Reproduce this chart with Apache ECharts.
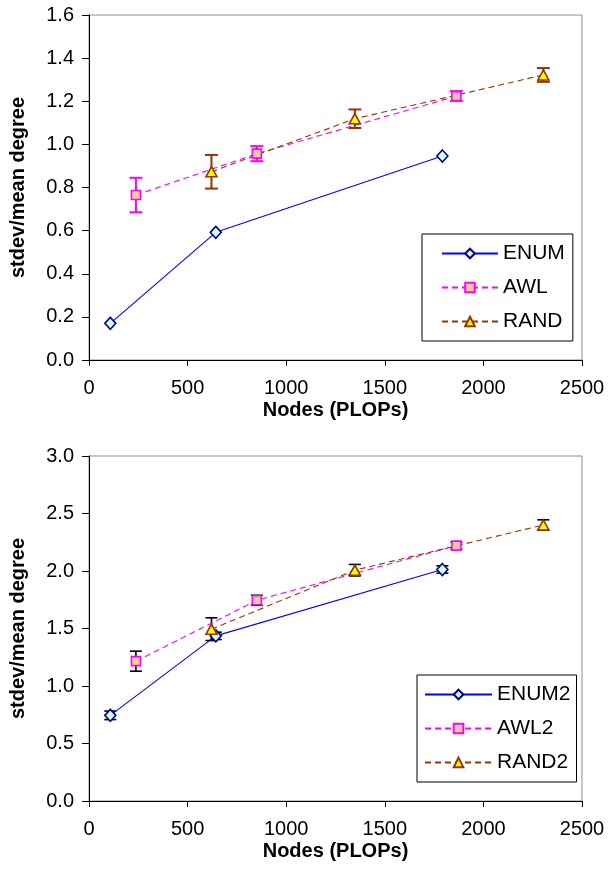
<!DOCTYPE html>
<html>
<head>
<meta charset="utf-8">
<script src="https://cdn.jsdelivr.net/npm/echarts@6/dist/echarts.min.js"></script>
<style>
  html, body { margin: 0; padding: 0; background: #fff; }
  #chart { width: 614px; height: 886px; }
</style>
</head>
<body>
<div id="chart"></div>
<script>
// Node counts (PLOPs) for each method
const nodesEnum = [108, 643, 1792];
const nodesAwl  = [238, 851, 1863];
const nodesRand = [621, 1348, 2304];

// Upper panel: stdev/mean degree
const enumVals = [0.170, 0.592, 0.946];
const awlVals  = [0.765, 0.957, 1.224];
const awlErr   = [0.080, 0.035, 0.023];
const randVals = [0.873, 1.119, 1.322];
const randErr  = [0.078, 0.043, 0.032];

// Lower panel: stdev/mean degree (second metric set)
const enum2Vals = [0.745, 1.436, 2.013];
const enum2Err  = [0.037, 0.032, 0.032];
const awl2Vals  = [1.216, 1.746, 2.221];
const awl2Err   = [0.087, 0.043, 0.030];
const rand2Vals = [1.494, 2.007, 2.400];
const rand2Err  = [0.099, 0.050, 0.045];

// Axis ticks
const xTicks = [0, 500, 1000, 1500, 2000, 2500];
const yTicksTop = [0, 0.2, 0.4, 0.6, 0.8, 1.0, 1.2, 1.4, 1.6];
const yTicksBottom = [0, 0.5, 1.0, 1.5, 2.0, 2.5, 3.0];

const FONT = '"Liberation Sans", Arial, sans-serif';

const pairs = (xs, ys) => xs.map((x, i) => [x, ys[i]]);
const errRows = (xs, ys, es) => xs.map((x, i) => [x, ys[i] - es[i], ys[i] + es[i]]);

function errorSeries(name, gridIdx, rows, color, width, cap) {
  return {
    type: 'custom',
    name: name,
    xAxisIndex: gridIdx,
    yAxisIndex: gridIdx,
    z: 1,
    silent: true,
    encode: { x: 0, y: [1, 2] },
    data: rows,
    renderItem: function (params, api) {
      const x = api.value(0);
      const lo = api.coord([x, api.value(1)]);
      const hi = api.coord([x, api.value(2)]);
      const h = cap / 2;
      const st = { stroke: color, lineWidth: width };
      return {
        type: 'group',
        children: [
          { type: 'line', shape: { x1: lo[0], y1: lo[1], x2: hi[0], y2: hi[1] }, style: st },
          { type: 'line', shape: { x1: hi[0] - h, y1: hi[1], x2: hi[0] + h, y2: hi[1] }, style: st },
          { type: 'line', shape: { x1: lo[0] - h, y1: lo[1], x2: lo[0] + h, y2: lo[1] }, style: st }
        ]
      };
    }
  };
}

const styleEnum = {
  symbol: 'diamond', symbolSize: [11, 12],
  itemStyle: { color: '#CCFFFF', borderColor: '#000080', borderWidth: 1.6 },
  lineStyle: { color: '#0000FF', width: 1.1, type: 'solid' }
};
const styleAwl = {
  symbol: 'rect', symbolSize: 9,
  itemStyle: { color: '#FFCC99', borderColor: '#FF00FF', borderWidth: 1.6 },
  lineStyle: { color: '#FF00FF', width: 1.1, type: [6, 4] }
};
const styleRand = {
  symbol: 'triangle', symbolSize: [11, 10],
  itemStyle: { color: '#FFFF00', borderColor: '#993300', borderWidth: 1.6 },
  lineStyle: { color: '#993300', width: 1.1, type: [6, 4] }
};

function lineSeries(name, gridIdx, data, style) {
  return Object.assign({
    type: 'line', name: name, xAxisIndex: gridIdx, yAxisIndex: gridIdx,
    data: data, z: 3, showAllSymbol: true, animation: false
  }, style);
}

function xAxis(gridIdx) {
  return {
    type: 'value', gridIndex: gridIdx, min: xTicks[0], max: xTicks[xTicks.length - 1], interval: 500,
    name: 'Nodes (PLOPs)', nameLocation: 'middle', nameGap: 40,
    nameTextStyle: { fontFamily: FONT, fontSize: 20, fontWeight: 'bold', color: '#000' },
    axisLine: { show: true, onZero: false, lineStyle: { color: '#000', width: 1 } },
    axisTick: { show: true, inside: false, length: 6, lineStyle: { color: '#000' } },
    axisLabel: { fontFamily: FONT, fontSize: 20, color: '#000', margin: 18,
      formatter: v => String(v) },
    splitLine: { show: false }
  };
}

function yAxis(gridIdx, ticks, step) {
  return {
    type: 'value', gridIndex: gridIdx, min: 0, max: ticks[ticks.length - 1], interval: step,
    name: 'stdev/mean degree', nameLocation: 'middle', nameGap: 61,
    nameTextStyle: { fontFamily: FONT, fontSize: 20, fontWeight: 'bold', color: '#000' },
    axisLine: { show: true, onZero: false, lineStyle: { color: '#000', width: 1 } },
    axisTick: { show: true, inside: false, length: 7, lineStyle: { color: '#000' } },
    axisLabel: { fontFamily: FONT, fontSize: 20, color: '#000', margin: 15,
      formatter: v => v.toFixed(1) },
    splitLine: { show: false }
  };
}

function legend(names, left, top, padding, iconW) {
  return {
    data: names,
    orient: 'vertical',
    left: left, top: top,
    padding: padding,
    itemGap: 13,
    itemWidth: iconW, itemHeight: 12,
    backgroundColor: '#fff',
    borderColor: '#000', borderWidth: 1,
    selectedMode: false,
    textStyle: { fontFamily: FONT, fontSize: 21, color: '#000' }
  };
}

const option = {
  animation: false,
  backgroundColor: '#fff',
  grid: [
    { left: 88, top: 15, width: 494, height: 345, show: true, borderColor: '#8c8c8c', borderWidth: 1, backgroundColor: 'transparent' },
    { left: 88, top: 456, width: 494, height: 345, show: true, borderColor: '#8c8c8c', borderWidth: 1, backgroundColor: 'transparent' }
  ],
  xAxis: [xAxis(0), xAxis(1)],
  yAxis: [yAxis(0, yTicksTop, 0.2), yAxis(1, yTicksBottom, 0.5)],
  legend: [
    legend(['ENUM', 'AWL', 'RAND'], 422, 234, [9, 8, 9, 19], 56),
    legend(['ENUM2', 'AWL2', 'RAND2'], 417, 675, [9, 6, 9, 7], 67)
  ],
  series: [
    errorSeries('AWL err', 0, errRows(nodesAwl, awlVals, awlErr), '#FF00FF', 2, 13),
    errorSeries('RAND err', 0, errRows(nodesRand, randVals, randErr), '#993300', 2, 13),
    lineSeries('ENUM', 0, pairs(nodesEnum, enumVals), styleEnum),
    lineSeries('AWL', 0, pairs(nodesAwl, awlVals), styleAwl),
    lineSeries('RAND', 0, pairs(nodesRand, randVals), styleRand),

    errorSeries('ENUM2 err', 1, errRows(nodesEnum, enum2Vals, enum2Err), '#000', 1.6, 12),
    errorSeries('AWL2 err', 1, errRows(nodesAwl, awl2Vals, awl2Err), '#000', 1.6, 12),
    errorSeries('RAND2 err', 1, errRows(nodesRand, rand2Vals, rand2Err), '#000', 1.6, 12),
    lineSeries('ENUM2', 1, pairs(nodesEnum, enum2Vals), styleEnum),
    lineSeries('AWL2', 1, pairs(nodesAwl, awl2Vals), styleAwl),
    lineSeries('RAND2', 1, pairs(nodesRand, rand2Vals), styleRand)
  ]
};

const chart = echarts.init(document.getElementById('chart'), null, { renderer: 'canvas' });
chart.setOption(option);
</script>
</body>
</html>
